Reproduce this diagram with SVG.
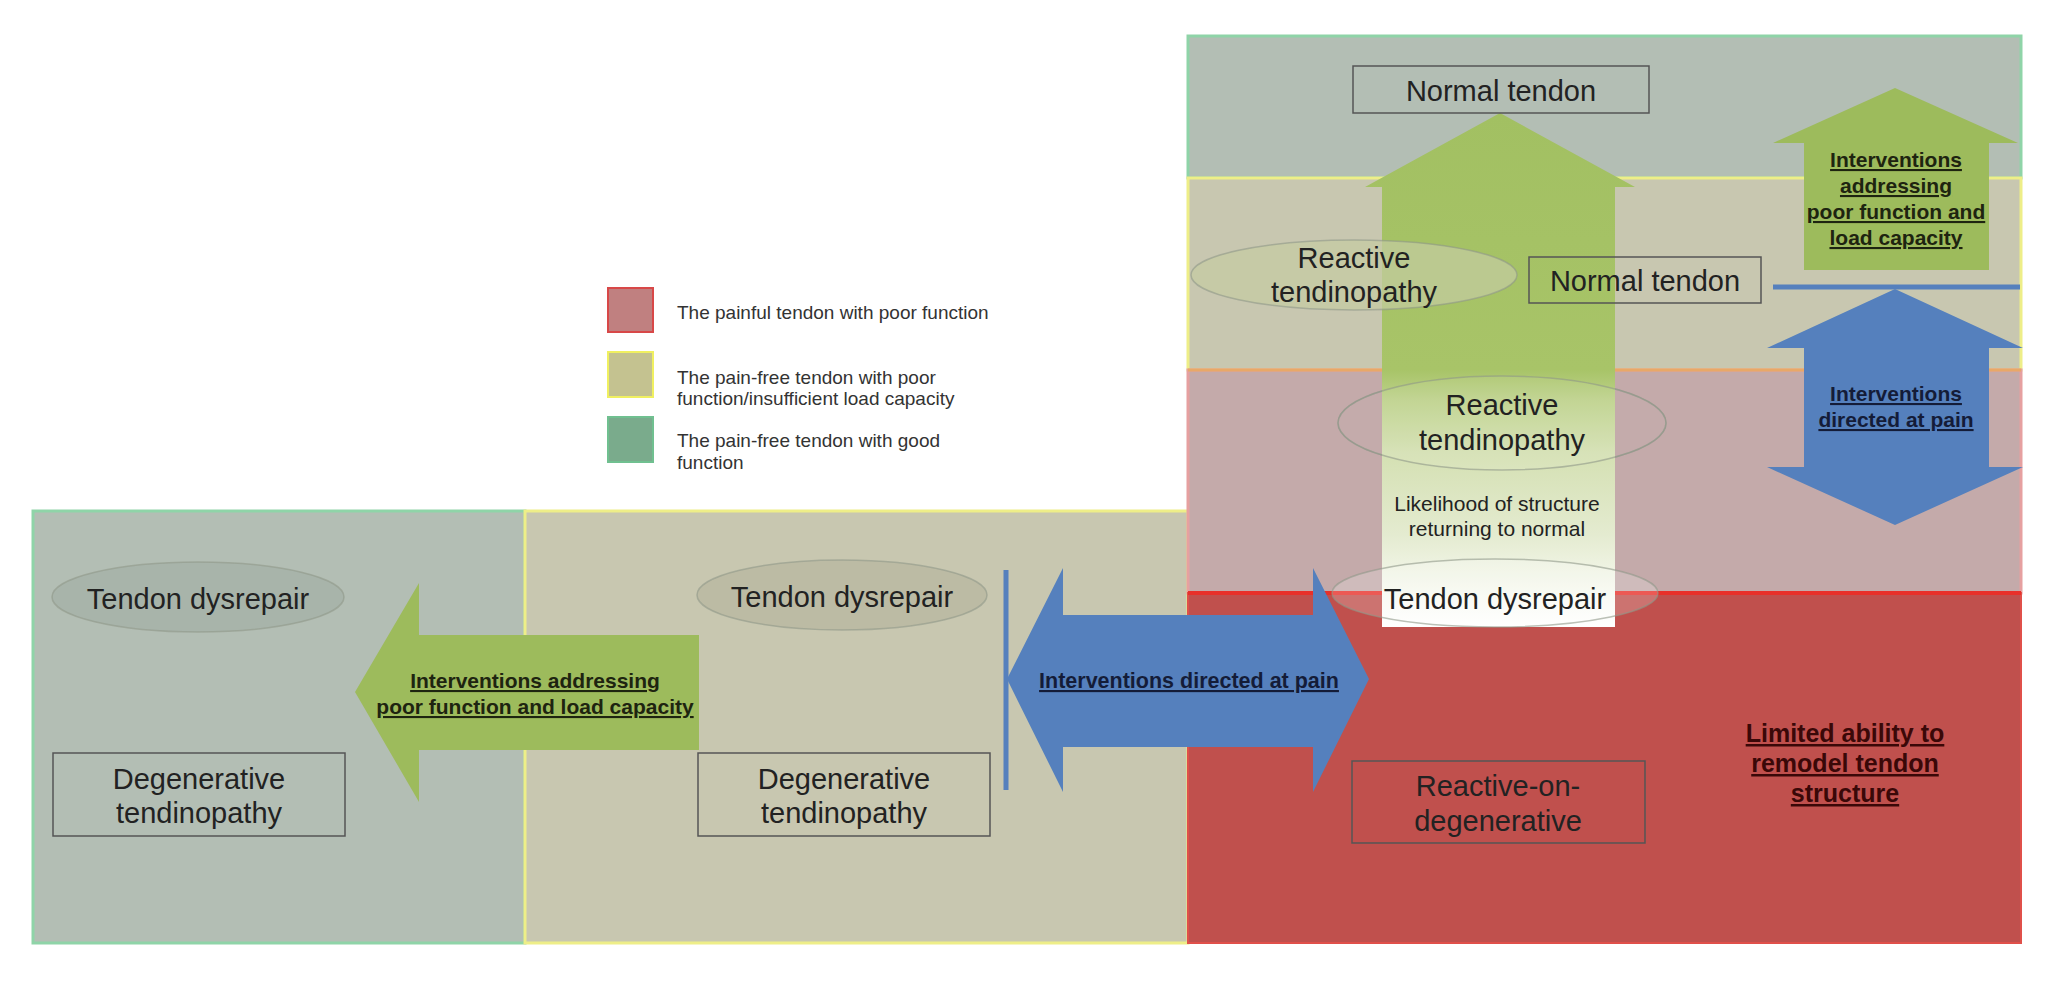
<svg xmlns="http://www.w3.org/2000/svg" width="2058" height="998" viewBox="0 0 2058 998">
<style>
.lbl{font-family:"Liberation Sans",Arial,sans-serif;font-size:29px;fill:#222;text-anchor:middle}
.leg{font-family:"Liberation Sans",Arial,sans-serif;font-size:19px;fill:#333}
.iv{font-family:"Liberation Sans",Arial,sans-serif;font-size:21px;font-weight:bold;text-anchor:middle;text-decoration:underline}
.box{fill:none;stroke:#555;stroke-width:1.5}
.ell{stroke:#8f9888;stroke-opacity:0.6;stroke-width:1.5}
.green{fill:#9dbb5c}
.blue{fill:#5580bd}
</style>
<defs>
<linearGradient id="fade" gradientUnits="userSpaceOnUse" x1="0" y1="113" x2="0" y2="627">
<stop offset="0" stop-color="#a2c062"/>
<stop offset="0.5" stop-color="#a8c468"/>
<stop offset="0.56" stop-color="#bed28c"/>
<stop offset="0.66" stop-color="#d4e0b2"/>
<stop offset="0.82" stop-color="#e4ebd0"/>
<stop offset="0.94" stop-color="#f8faf2"/>
<stop offset="1" stop-color="#ffffff"/>
</linearGradient>
</defs>
<rect width="2058" height="998" fill="#ffffff"/>

<g id="panels">
<rect x="33" y="511" width="492" height="432" fill="#b3beb4" stroke="#8fd4a8" stroke-width="3"/>
<rect x="525" y="511" width="663" height="432" fill="#c8c7b0" stroke="#eeee88" stroke-width="3"/>
<rect x="1188" y="36" width="833" height="142" fill="#b3beb4" stroke="#8fd4a8" stroke-width="3"/>
<rect x="1188" y="178" width="833" height="192" fill="#c8c7b0" stroke="#eeee88" stroke-width="3"/>
<rect x="1188" y="370" width="833" height="223" fill="#c4aaaa" stroke="#e6a0a0" stroke-width="3"/>
<line x1="1188" y1="370" x2="2021" y2="370" stroke="#e8a868" stroke-width="3"/>
<rect x="1188" y="593" width="833" height="350" fill="#c0504d" stroke="#e0504a" stroke-width="2"/>
<line x1="1188" y1="593" x2="2021" y2="593" stroke="#e8302a" stroke-width="4"/>
</g>

<g id="legend">
<rect x="608" y="288" width="45" height="44" fill="#c08080" stroke="#d84848" stroke-width="2"/>
<text class="leg" x="677" y="319">The painful tendon with poor function</text>
<rect x="608" y="352" width="45" height="45" fill="#c4c290" stroke="#f0f060" stroke-width="2"/>
<text class="leg" x="677" y="384">The pain-free tendon with poor</text>
<text class="leg" x="677" y="405">function/insufficient load capacity</text>
<rect x="608" y="417" width="45" height="45" fill="#7aab8c" stroke="#70c090" stroke-width="2"/>
<text class="leg" x="677" y="447">The pain-free tendon with good</text>
<text class="leg" x="677" y="469">function</text>
</g>

<g id="ellipse-backs">
<ellipse cx="1502" cy="423" rx="164" ry="47" fill="#bfa4a4" class="ell"/>
</g>

<g id="connectors">
<polygon id="arrow-normal" points="1500,113 1635,187 1615,187 1615,627 1382,627 1382,187 1365,187" fill="url(#fade)"/>
<polygon id="arrow-func-right" class="green" points="1895,88 2018,143 1989,143 1989,270 1804,270 1804,143 1773,143"/>
<line x1="1773" y1="287" x2="2020" y2="287" stroke="#5580bd" stroke-width="5"/>
<polygon id="arrow-pain-right" class="blue" points="1895,289 2023,348 1989,348 1989,467 2023,467 1895,525 1767,467 1804,467 1804,348 1767,348"/>
<line x1="1006" y1="570" x2="1006" y2="790" stroke="#5580bd" stroke-width="5"/>
<polygon id="arrow-pain-mid" class="blue" points="1007,679 1063,568 1063,615 1313,615 1313,568 1369,679 1313,792 1313,747 1063,747 1063,792"/>
<polygon id="arrow-func-left" class="green" points="355,692 419,583 419,635 699,635 699,750 419,750 419,802"/>
<text class="iv" x="1896" y="167" fill="#1e2410">Interventions</text>
<text class="iv" x="1896" y="193" fill="#1e2410">addressing</text>
<text class="iv" x="1896" y="219" fill="#1e2410">poor function and</text>
<text class="iv" x="1896" y="245" fill="#1e2410">load capacity</text>
<text class="iv" x="1896" y="401" fill="#141c38">Interventions</text>
<text class="iv" x="1896" y="427" fill="#141c38">directed at pain</text>
<text class="iv" x="1189" y="688" fill="#141c38" style="font-size:21.5px">Interventions directed at pain</text>
<text class="iv" x="535" y="688" fill="#1e2410">Interventions addressing</text>
<text class="iv" x="535" y="714" fill="#1e2410">poor function and load capacity</text>
</g>

<g id="normal-tendon-top">
<rect class="box" x="1353" y="66" width="296" height="47"/>
<text class="lbl" x="1501" y="101">Normal tendon</text>
</g>

<g id="reactive-top">
<ellipse cx="1354" cy="275" rx="163" ry="35" fill="#c4cca2" fill-opacity="0.7" class="ell"/>
<text class="lbl" x="1354" y="268">Reactive</text>
<text class="lbl" x="1354" y="302">tendinopathy</text>
</g>

<g id="normal-tendon-mid">
<rect class="box" x="1529" y="257" width="232" height="46"/>
<text class="lbl" x="1645" y="291">Normal tendon</text>
</g>

<g id="reactive-mid">
<ellipse cx="1502" cy="423" rx="164" ry="47" fill="#ffffff" fill-opacity="0.08" class="ell"/>
<text class="lbl" x="1502" y="415">Reactive</text>
<text class="lbl" x="1502" y="450">tendinopathy</text>
</g>

<g id="likelihood">
<text class="lbl" x="1497" y="511" style="font-size:21px">Likelihood of structure</text>
<text class="lbl" x="1497" y="536" style="font-size:21px">returning to normal</text>
</g>

<g id="dysrepair-right">
<ellipse cx="1495" cy="593" rx="163" ry="34" fill="#ffffff" fill-opacity="0.2" class="ell"/>
<text class="lbl" x="1495" y="609">Tendon dysrepair</text>
</g>

<g id="reactive-on-degenerative">
<rect class="box" x="1352" y="761" width="293" height="82"/>
<text class="lbl" x="1498" y="796">Reactive-on-</text>
<text class="lbl" x="1498" y="831">degenerative</text>
</g>

<g id="limited">
<text class="iv" x="1845" y="742" fill="#3a0808" style="font-size:25px">Limited ability to</text>
<text class="iv" x="1845" y="772" fill="#3a0808" style="font-size:25px">remodel tendon</text>
<text class="iv" x="1845" y="802" fill="#3a0808" style="font-size:25px">structure</text>
</g>

<g id="dysrepair-left">
<ellipse cx="198" cy="597" rx="146" ry="35" fill="#a8b4aa" class="ell"/>
<text class="lbl" x="198" y="609">Tendon dysrepair</text>
</g>

<g id="degenerative-left">
<rect class="box" x="53" y="753" width="292" height="83"/>
<text class="lbl" x="199" y="789">Degenerative</text>
<text class="lbl" x="199" y="823">tendinopathy</text>
</g>

<g id="dysrepair-mid">
<ellipse cx="842" cy="595" rx="145" ry="35" fill="#bcbba4" class="ell"/>
<text class="lbl" x="842" y="607">Tendon dysrepair</text>
</g>

<g id="degenerative-mid">
<rect class="box" x="698" y="753" width="292" height="83"/>
<text class="lbl" x="844" y="789">Degenerative</text>
<text class="lbl" x="844" y="823">tendinopathy</text>
</g>
</svg>
